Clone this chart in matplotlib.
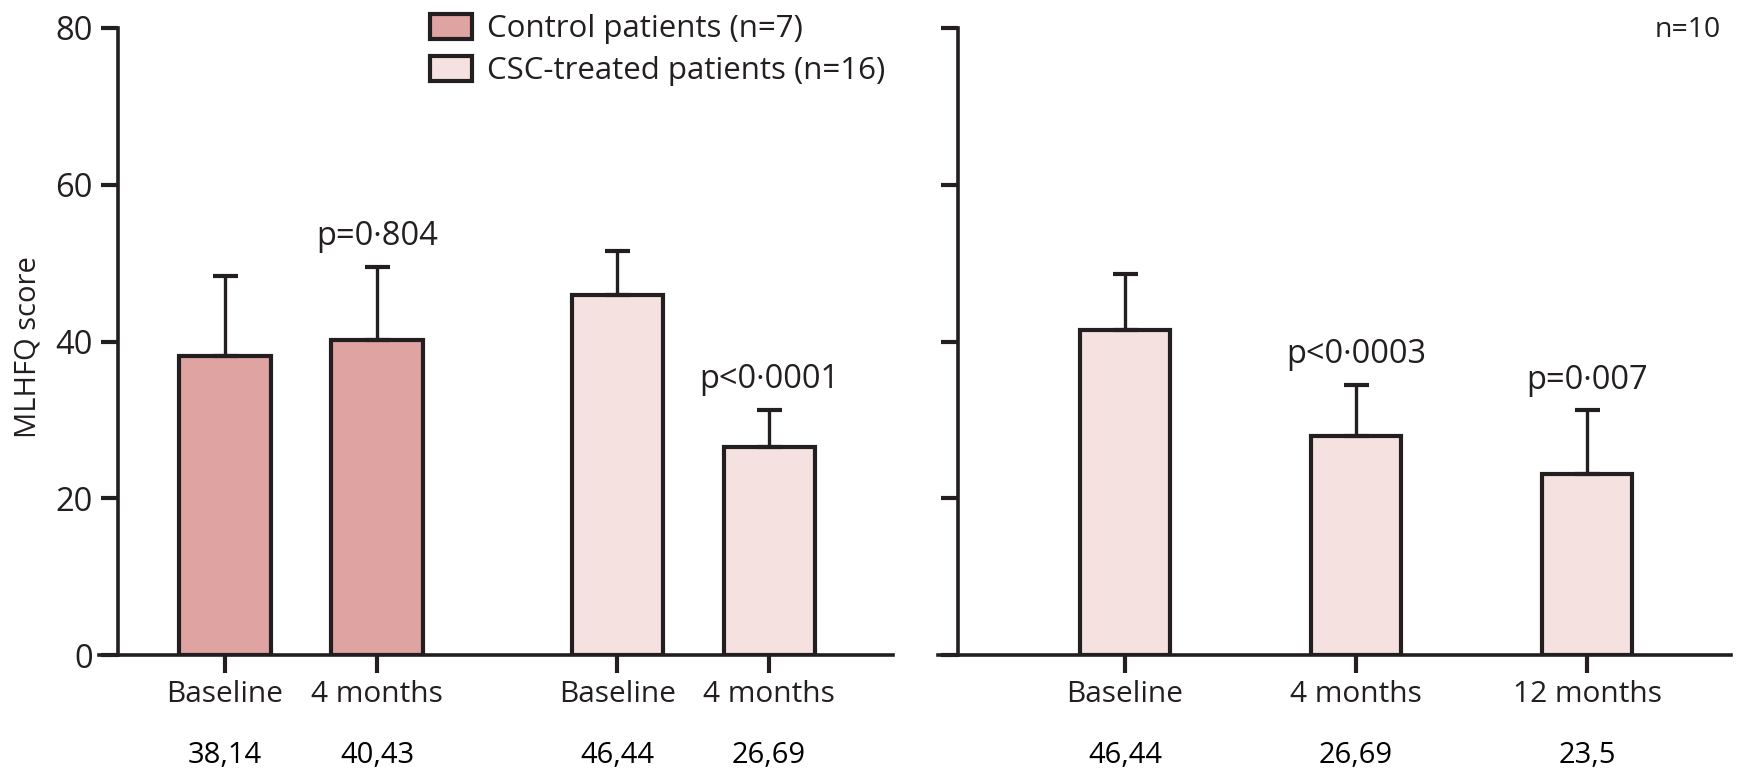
import matplotlib
matplotlib.use('Agg')
import matplotlib.pyplot as plt
from matplotlib.transforms import blended_transform_factory

plt.rcParams['font.family'] = ['Open Sans', 'DejaVu Sans']

ink = '#231f20'
control_color = '#dfa3a1'
csc_color = '#f5e1df'

# left panel: control vs CSC-treated
left_labels = ['Baseline', '4 months', 'Baseline', '4 months']
control_means = [38.1, 40.2]
control_err = [10.3, 9.3]
csc_means = [45.9, 26.5]
csc_err = [5.6, 4.8]
left_values = ['38,14', '40,43', '46,44', '26,69']
p_left = ['p=0·804', 'p<0·0001']

# right panel: n=10 followed to 12 months
right_labels = ['Baseline', '4 months', '12 months']
right_means = [41.5, 27.9, 23.1]
right_err = [7.1, 6.5, 8.1]
right_values = ['46,44', '26,69', '23,5']
p_right = ['p<0·0003', 'p=0·007']

W, H = 1738, 770
fig = plt.figure(figsize=(W / 100, H / 100), dpi=100)

ax1 = fig.add_axes([99 / W, 1 - 655 / H, (893 - 99) / W, (655 - 28) / H])
ax2 = fig.add_axes([938 / W, 1 - 655 / H, (1731 - 938) / W, (655 - 28) / H])

bar_kw = dict(edgecolor=ink, linewidth=3, zorder=2)
err_kw = dict(fmt='none', ecolor=ink, elinewidth=2.4, capsize=9, capthick=3, zorder=3)

# left
pos_c = [0, 1]
pos_t = [2.58, 3.58]
b_ctrl = ax1.bar(pos_c, control_means, 0.6, color=control_color, **bar_kw)
b_csc = ax1.bar(pos_t, csc_means, 0.6, color=csc_color, **bar_kw)
ax1.errorbar(pos_c, control_means, yerr=[[0] * 2, control_err], **err_kw)
ax1.errorbar(pos_t, csc_means, yerr=[[0] * 2, csc_err], **err_kw)
ax1.set_xlim(-0.829, 4.395)
ax1.spines['left'].set_position(('data', -0.707))
left_pos = pos_c + pos_t

# right
right_pos = [0, 1, 2]
ax2.bar(right_pos, right_means, 0.39, color=csc_color, **bar_kw)
ax2.errorbar(right_pos, right_means, yerr=[[0] * 3, right_err], **err_kw)
ax2.set_xlim(-0.81, 2.623)
ax2.spines['left'].set_position(('data', -0.725))

for ax, pos, labels in [(ax1, left_pos, left_labels), (ax2, right_pos, right_labels)]:
    ax.set_ylim(0, 80)
    ax.set_yticks([0, 20, 40, 60, 80])
    ax.set_xticks(pos)
    ax.set_xticklabels(labels)
    for s in ['top', 'right']:
        ax.spines[s].set_visible(False)
    for s in ['left', 'bottom']:
        ax.spines[s].set_linewidth(2.6)
        ax.spines[s].set_color(ink)
    ax.tick_params(axis='y', length=12, width=3, pad=6, labelsize=23.5, colors=ink)
    ax.tick_params(axis='x', length=13, width=3, pad=5, labelsize=21.5, colors=ink)
    ax.patch.set_visible(False)

ax2.set_yticklabels([])

# p values above the whiskers
tops_l = [m + e for m, e in zip(control_means + csc_means, control_err + csc_err)]
for i, txt in zip([1, 3], p_left):
    ax1.text(left_pos[i], tops_l[i] + 2.8, txt, ha='center', va='baseline', fontsize=23.5, color=ink)
tops_r = [m + e for m, e in zip(right_means, right_err)]
for i, txt in zip([1, 2], p_right):
    ax2.text(right_pos[i], tops_r[i] + 2.8, txt, ha='center', va='baseline', fontsize=23.5, color=ink)

# values under the axis
for ax, pos, vals in [(ax1, left_pos, left_values), (ax2, right_pos, right_values)]:
    tr = blended_transform_factory(ax.transData, fig.transFigure)
    for x, v in zip(pos, vals):
        ax.text(x, 1 - 763 / H, v, transform=tr, ha='center', va='baseline', fontsize=21, color='black')

fig.text(28 / W, 1 - 347 / H, 'MLHFQ score', rotation=90, ha='center', va='center', fontsize=21, color=ink)
fig.text(1721 / W, 1 - 37 / H, 'n=10', ha='right', va='baseline', fontsize=20.5, color=ink)

fig.legend([b_ctrl, b_csc], ['Control patients (n=7)', 'CSC-treated patients (n=16)'],
           loc='upper left', bbox_to_anchor=(430 / W, 1 - 14 / H), bbox_transform=fig.transFigure,
           frameon=False, fontsize=22.5, labelcolor=ink, handlelength=1.34, handleheight=0.86,
           handletextpad=0.48, labelspacing=0.36, borderpad=0, borderaxespad=0)

fig.savefig('out.png', dpi=100)
